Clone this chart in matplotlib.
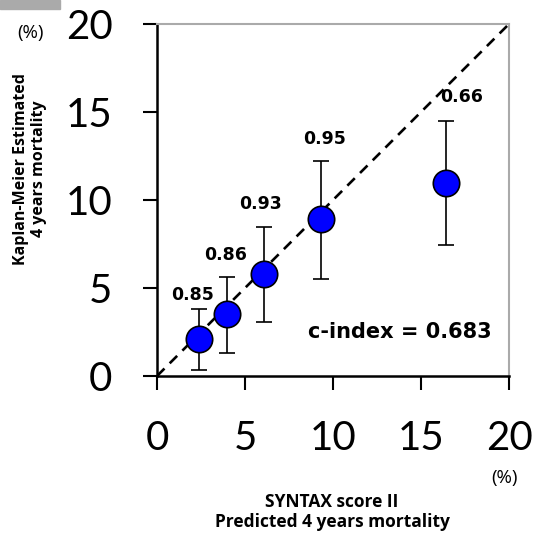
import matplotlib
matplotlib.use("Agg")
import matplotlib.pyplot as plt
from matplotlib.patches import Rectangle

# predicted vs observed 4-year mortality (%)
predicted = [2.4, 4.0, 6.1, 9.3, 16.4]
observed = [2.1, 3.5, 5.8, 8.9, 10.95]
ci_upper = [3.8, 5.6, 8.45, 12.2, 14.5]
ci_lower = [0.35, 1.3, 3.05, 5.5, 7.45]
c_labels = ["0.85", "0.86", "0.93", "0.95", "0.66"]
ticks = [0, 5, 10, 15, 20]

# label nudges (points) relative to the top of each error bar
label_dx = [-5, -1, -3, 3, 11.5]
label_dy = [10, 16, 17, 16, 17]

W, H = 535, 537
fig = plt.figure(figsize=(W / 100, H / 100), dpi=100)
ax = fig.add_axes([157 / W, (H - 376) / H, 352 / W, 352 / H])

# diagonal reference line
ax.plot([0, 20], [0, 20], color="black", lw=1.9, linestyle=(0, (4, 2.8)), zorder=1)

err_lo = [o - l for o, l in zip(observed, ci_lower)]
err_hi = [u - o for o, u in zip(observed, ci_upper)]
ax.errorbar(predicted, observed, yerr=[err_lo, err_hi], fmt="none",
            ecolor="black", elinewidth=1.2, capsize=6, capthick=1.2, zorder=2)
ax.plot(predicted, observed, "o", color="#0000ff", markersize=19,
        markeredgecolor="black", markeredgewidth=1.2, zorder=3)

for x, u, s, dx, dy in zip(predicted, ci_upper, c_labels, label_dx, label_dy):
    ax.annotate(s, (x, u), xytext=(dx, dy), textcoords="offset points",
                ha="center", va="center", fontsize=12.5, fontweight="heavy",
                family="DejaVu Sans")

ax.text(13.8, 2.5, "c-index = 0.683", ha="center", va="center",
        fontsize=15, fontweight="bold", family="DejaVu Sans")

ax.set_xlim(0, 20)
ax.set_ylim(0, 20)
ax.set_xticks(ticks)
ax.set_yticks(ticks)
ax.tick_params(direction="out", length=10, width=1.5, labelsize=29, pad=22)
for lab in ax.get_xticklabels() + ax.get_yticklabels():
    lab.set_family("Lato")
for side in ["left", "bottom"]:
    ax.spines[side].set_linewidth(1.8)
for side in ["right", "top"]:
    ax.spines[side].set_color("#aaaaaa")
    ax.spines[side].set_linewidth(1.5)

fig.text(30 / W, 1 - 169 / H, "Kaplan-Meier Estimated\n4 years mortality",
         rotation=90, ha="center", va="center", fontsize=11.5, fontweight="bold",
         family="Open Sans", linespacing=1.15)
fig.text(332 / W, 1 - 512 / H, "SYNTAX score II\nPredicted 4 years mortality",
         ha="center", va="center", fontsize=12.5, fontweight="bold",
         family="Open Sans", linespacing=1.1)
fig.text(30 / W, 1 - 33 / H, "(%)", ha="center", va="center", fontsize=13.5, family="Open Sans")
fig.text(504 / W, 1 - 478 / H, "(%)", ha="center", va="center", fontsize=13.5, family="Open Sans")

fig.patches.append(Rectangle((0, 1 - 9 / H), 60 / W, 9 / H, transform=fig.transFigure,
                             color="#aaaaaa", zorder=0))

fig.savefig("out.png", dpi=100)
